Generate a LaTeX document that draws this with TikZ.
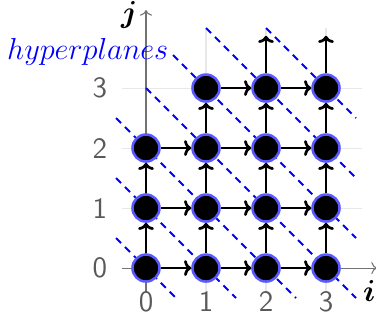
\documentclass[tikz,border=0pt]{standalone}
\usepackage{amsmath}
\usepackage{amssymb}
\usepackage{bm}
\usepackage{tikz}
\usetikzlibrary{arrows.meta, positioning, calc}

\begin{document}
\begin{tikzpicture}[
    x=1cm, y=1cm,
    pt/.style={circle, fill=black, draw=blue!65, line width=1.2pt, minimum size=4.5mm, inner sep=0pt},
    flow/.style={-{To[length=3.4pt, width=7.5pt]}, line width=1.3pt},
    hyper/.style={draw=blue, line width=0.9pt, dash pattern=on 3.4pt off 2.6pt},
    gridline/.style={draw=gray!18, line width=0.5pt},
    axis/.style={->, draw=black!55, line width=0.5pt},
    tick/.style={text=black!65, font=\fontsize{14}{16}\selectfont\sffamily}
]
\useasboundingbox (-2.433,-0.983) rectangle (3.833,4.467);

% grid
\draw[gridline] (-0.4,1) -- (3.6,1);
\draw[gridline] (-0.4,2) -- (3.6,2);
\draw[gridline] (-0.4,3) -- (3.6,3);
\draw[gridline] (1,-0.4) -- (1,4);
\draw[gridline] (2,-0.4) -- (2,4);
\draw[gridline] (3,-0.4) -- (3,4);

% axes
\coordinate (xa) at (-0.4,0);
\coordinate (xb) at (3.85,0);
\coordinate (ya) at (0,-0.4);
\coordinate (yb) at (0,4.3);
\draw[axis] (xa) -- (xb);
\draw[axis] (ya) -- (yb);
\node[font=\fontsize{15}{17}\selectfont, inner sep=1pt] (ilab) at (3.72,-0.38) {$\bm{i}$};
\node[font=\fontsize{15}{17}\selectfont] (jlab) at (-0.28,4.22) {$\bm{j}$};

\node[tick] (x0) at (0,-0.56) {0};
\node[tick] (x1) at (1,-0.56) {1};
\node[tick] (x2) at (2,-0.56) {2};
\node[tick] (x3) at (3,-0.56) {3};
\node[tick] (y0) at (-0.77,0) {0};
\node[tick] (y1) at (-0.77,1) {1};
\node[tick] (y2) at (-0.77,2) {2};
\node[tick] (y3) at (-0.77,3) {3};

% hyperplanes i+j=k
\draw[hyper] (-0.5,0.5) -- (0.5,-0.5);
\draw[hyper] (-0.5,1.5) -- (1.5,-0.5);
\draw[hyper] (-0.5,2.5) -- (2.5,-0.5);
\draw[hyper] (0,3) -- (3.5,-0.5);
\draw[hyper] (0.45,3.55) -- (3.5,0.5);
\draw[hyper] (1,4) -- (3.5,1.5);
\draw[hyper] (2,4) -- (3.5,2.5);
\node[text=blue, font=\fontsize{13.5}{16}\selectfont] (hlab) at (-0.97,3.6) {$hyperplanes$};

% iteration points
\node[pt] (n00) at (0,0) {};
\node[pt] (n10) at (1,0) {};
\node[pt] (n20) at (2,0) {};
\node[pt] (n30) at (3,0) {};
\node[pt] (n01) at (0,1) {};
\node[pt] (n11) at (1,1) {};
\node[pt] (n21) at (2,1) {};
\node[pt] (n31) at (3,1) {};
\node[pt] (n02) at (0,2) {};
\node[pt] (n12) at (1,2) {};
\node[pt] (n22) at (2,2) {};
\node[pt] (n32) at (3,2) {};
\node[pt] (n13) at (1,3) {};
\node[pt] (n23) at (2,3) {};
\node[pt] (n33) at (3,3) {};
\coordinate (t2) at (2,3.87);
\coordinate (t3) at (3,3.87);

% dependences along i
\draw[flow] (n00) -- (n10);
\draw[flow] (n10) -- (n20);
\draw[flow] (n20) -- (n30);
\draw[flow] (n01) -- (n11);
\draw[flow] (n11) -- (n21);
\draw[flow] (n21) -- (n31);
\draw[flow] (n02) -- (n12);
\draw[flow] (n12) -- (n22);
\draw[flow] (n22) -- (n32);
\draw[flow] (n13) -- (n23);
\draw[flow] (n23) -- (n33);

% dependences along j
\draw[flow] (n00) -- (n01);
\draw[flow] (n01) -- (n02);
\draw[flow] (n10) -- (n11);
\draw[flow] (n11) -- (n12);
\draw[flow] (n12) -- (n13);
\draw[flow] (n20) -- (n21);
\draw[flow] (n21) -- (n22);
\draw[flow] (n22) -- (n23);
\draw[flow] (n23) -- (t2);
\draw[flow] (n30) -- (n31);
\draw[flow] (n31) -- (n32);
\draw[flow] (n32) -- (n33);
\draw[flow] (n33) -- (t3);

\end{tikzpicture}
\end{document}
